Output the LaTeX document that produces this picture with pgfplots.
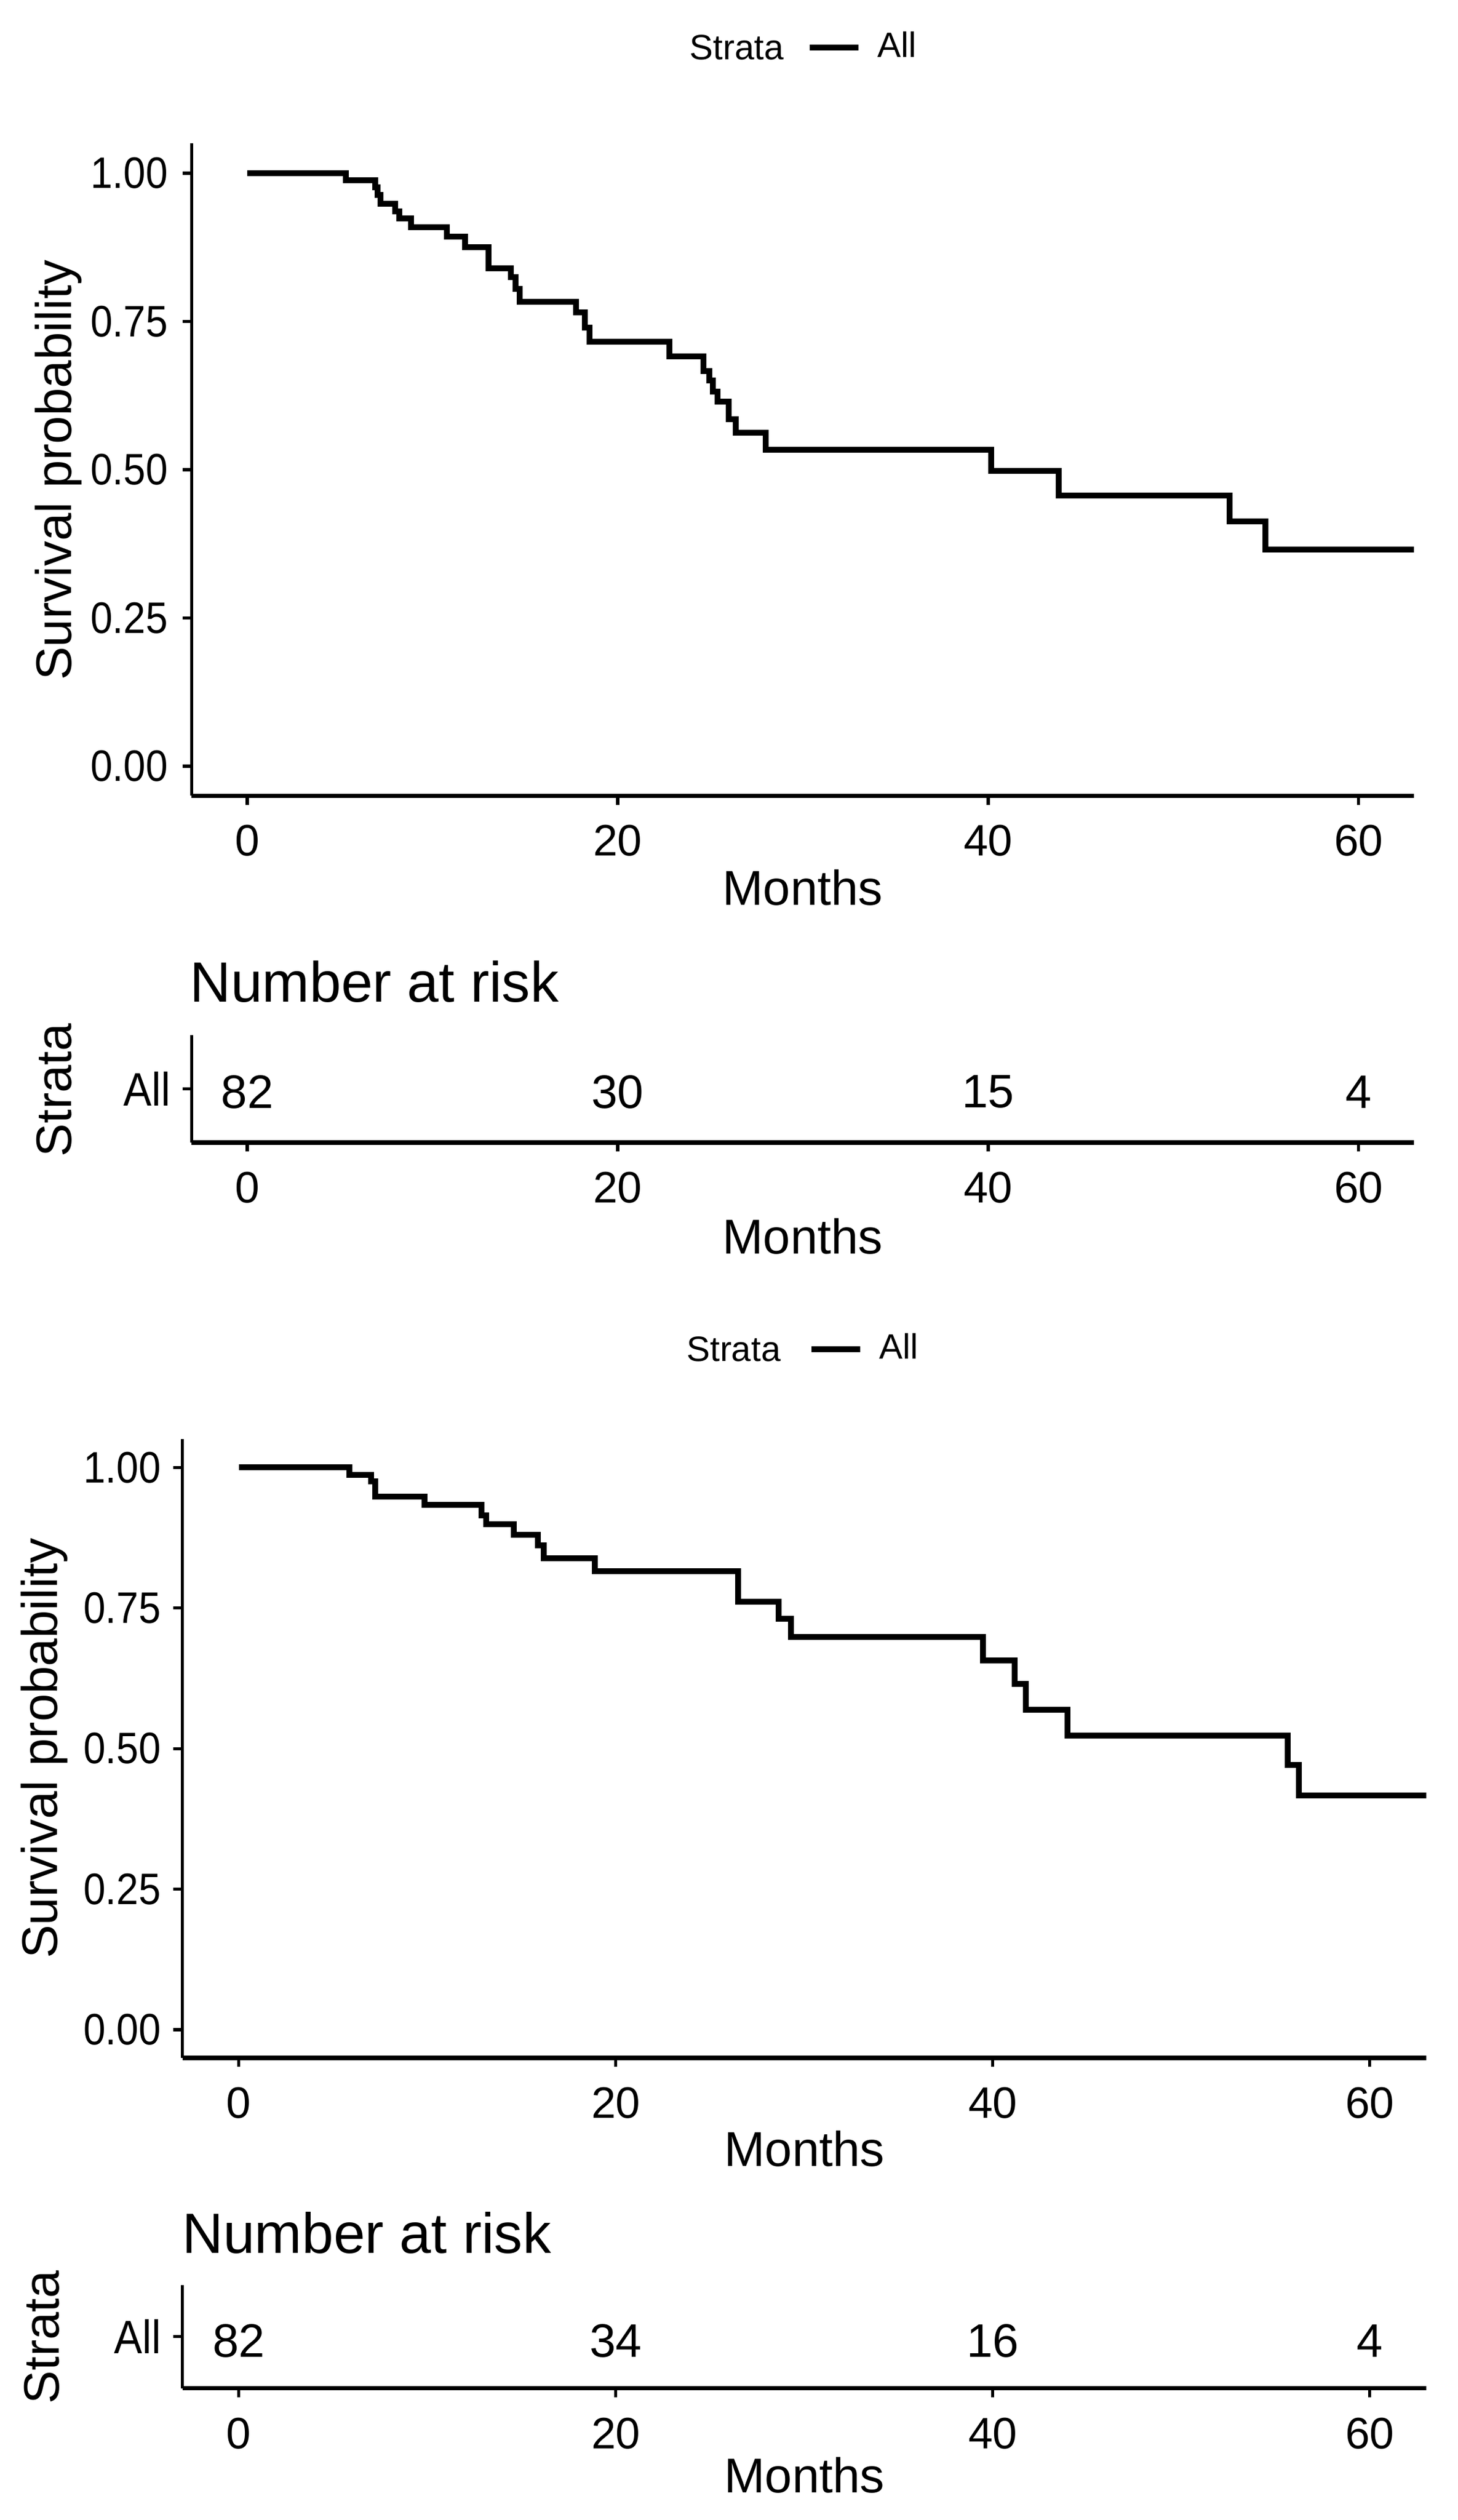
\documentclass[border=0pt]{standalone}
\usepackage{fontspec}
\setmainfont{Liberation Sans}
\newfontfamily\narrowsans{Liberation Sans}[FakeStretch=0.9]
\usepackage{pgfplots}
\pgfplotsset{compat=1.18}
\usepackage{pgfplotstable}

\newcommand\ftick{\fontsize{11.25pt}{13pt}\selectfont}
\newcommand\fytick{\narrowsans\fontsize{11.25pt}{13pt}\selectfont}
\newcommand\fall{\narrowsans\fontsize{12pt}{14pt}\selectfont}
\newcommand\ftitle{\fontsize{12.5pt}{15pt}\selectfont}
\newcommand\fytitle{\fontsize{12.8pt}{15pt}\selectfont}
\newcommand\frisk{\fontsize{14.5pt}{17pt}\selectfont}
\newcommand\fnum{\fontsize{12pt}{14pt}\selectfont}
\newcommand\fstrata{\fontsize{12.75pt}{15pt}\selectfont}
\newcommand\fleg{\fontsize{9pt}{11pt}\selectfont}

\pgfplotstableread{
t s
0 1.000
5.33 0.988
6.91 0.976
7.05 0.963
7.2 0.948
7.98 0.936
8.2 0.924
8.83 0.909
10.79 0.893
11.76 0.875
13.02 0.840
14.23 0.825
14.48 0.805
14.72 0.783
17.75 0.765
18.24 0.740
18.48 0.716
22.79 0.691
24.64 0.666
24.94 0.650
25.15 0.632
25.39 0.615
25.99 0.585
26.38 0.562
28.0 0.534
40.16 0.498
43.82 0.456
53.04 0.4125
54.96 0.365
63 0.365
}\topkm

\pgfplotstableread{
t s
0 1.000
5.85 0.987
7.0 0.975
7.23 0.9485
9.86 0.934
12.88 0.915
13.12 0.899
14.6 0.880
15.86 0.861
16.17 0.838
18.9 0.8157
26.5 0.761
28.63 0.731
29.3 0.699
39.47 0.6567
41.15 0.6147
41.74 0.5687
43.95 0.5228
55.64 0.4708
56.23 0.4169
63 0.4169
}\botkm

\pgfplotstableread{
x y label
0 1 82
20 1 30
40 1 15
60 1 4
}\toprisk

\pgfplotstableread{
x y label
0 1 82
20 1 34
40 1 16
60 1 4
}\botrisk

\pgfplotsset{
  kmbase/.style={
    scale only axis,
    anchor=south west,
    axis lines=left,
    axis line style={-},
    x axis line style={line width=1.1pt},
    y axis line style={line width=0.85pt},
    tick align=outside,
    major tick length=2.3pt,
    tick style={black, line width=0.8pt},
    xmin=-3, xmax=63,
    xtick={0,20,40,60}, xticklabels={0,20,40,60},
    tick label style={inner sep=0pt},
    xticklabel style={font=\ftick},
    yticklabel style={font=\fytick},
    xticklabel shift=5pt,
    yticklabel shift=3.6pt,
  },
  kmlegend/.style={
    legend style={draw=none, fill=none, inner sep=0pt, outer sep=0pt,
      at={(axis description cs:#1)}, anchor=west,
      font=\fleg, cells={anchor=west}, nodes={inner sep=0pt},
      /tikz/every odd column/.style={column sep=4.1pt}},
    legend image code/.code={\draw[line width=1.5pt] (0pt,0pt) -- (12.45pt,0pt);},
  },
  riskplot/.style={draw=none, mark=none, nodes near coords,
    point meta=explicit symbolic,
    every node near coord/.append style={anchor=center, inner sep=0pt, yshift=#1, font=\fnum}},
}

\begin{document}
\begin{tikzpicture}
% top survival plot
\begin{axis}[kmbase, kmlegend={0.503,1.1472},
  at={(48.96pt,440.475pt)}, width=312.3pt, height=166.65pt,
  ymin=-0.05, ymax=1.05,
  ytick={0,0.25,0.5,0.75,1}, yticklabels={0.00,0.25,0.50,0.75,1.00}]
\addplot[const plot, black, line width=1.5pt] table[x=t,y=s] {\topkm};
\addlegendentry{All}
\end{axis}
% top risk table
\begin{axis}[kmbase, at={(48.96pt,351.9pt)}, width=312.3pt, height=27.45pt,
  ymin=0, ymax=2, ytick={1}, yticklabels={All}, yticklabel style={font=\fall},
  yticklabel shift=2.86pt]
\addplot[riskplot=-0.8pt] table[x=x,y=y,meta=label] {\toprisk};
\end{axis}
% bottom survival plot
\begin{axis}[kmbase, kmlegend={0.5034,1.1457},
  at={(46.575pt,118.065pt)}, width=317.79pt, height=158.01pt,
  ymin=-0.05, ymax=1.05, yticklabel shift=3.0pt,
  ytick={0,0.25,0.5,0.75,1}, yticklabels={0.00,0.25,0.50,0.75,1.00}]
\addplot[const plot, black, line width=1.5pt] table[x=t,y=s] {\botkm};
\addlegendentry{All}
\end{axis}
% bottom risk table
\begin{axis}[kmbase, at={(46.575pt,33.645pt)}, width=317.79pt, height=26.415pt,
  ymin=0, ymax=2, ytick={1}, yticklabels={All}, yticklabel style={font=\fall},
  yticklabel shift=2.86pt]
\addplot[riskplot=-1.05pt] table[x=x,y=y,meta=label] {\botrisk};
\end{axis}

\begin{scope}[x=0.15pt, y=-0.15pt, yshift=643.8pt]
  % top
  \node[anchor=west, inner sep=0pt, font=\fleg] at (1173.5,81) {Strata};
  \node[anchor=base, inner sep=0pt, font=\ftitle] at (1367,1542) {Months};
  \node[rotate=90, inner sep=0pt, font=\fytitle] at (99.5,801) {Survival probability};
  \node[anchor=base west, inner sep=0pt, font=\frisk] at (322,1707) {Number at risk};
  \node[rotate=90, inner sep=0pt, font=\fstrata] at (92.6,1857) {Strata};
  \node[anchor=base, inner sep=0pt, font=\ftitle] at (1367,2136) {Months};
  % bottom
  \node[anchor=west, inner sep=0pt, font=\fleg] at (1168,2298) {Strata};
  \node[anchor=base, inner sep=0pt, font=\ftitle] at (1370,3690) {Months};
  \node[rotate=90, inner sep=0pt, font=\fytitle] at (75,2978) {Survival probability};
  \node[anchor=base west, inner sep=0pt, font=\frisk] at (309,3838) {Number at risk};
  \node[rotate=90, inner sep=0pt, font=\fstrata] at (71,3981) {Strata};
  \node[anchor=base, inner sep=0pt, font=\ftitle] at (1370,4245.8) {Months};
\end{scope}

\pgfresetboundingbox
\path[use as bounding box] (0,0) rectangle (372.3pt,643.8pt);
\end{tikzpicture}
\end{document}
